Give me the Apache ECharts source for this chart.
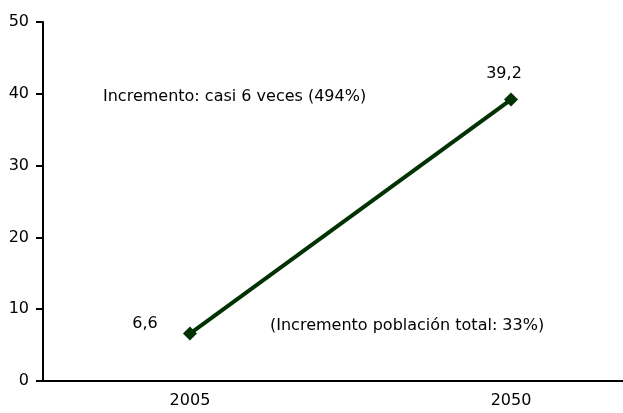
<!DOCTYPE html>
<html>
<head>
<meta charset="utf-8">
<script src="https://cdn.jsdelivr.net/npm/echarts@6/dist/echarts.min.js"></script>
<style>html,body{margin:0;padding:0;background:#fff;}#c{width:623px;height:413px;}</style>
</head>
<body>
<div id="c"></div>
<script>
const years = [2005, 2050];
const values = [6.6, 39.2];
const yTicks = [0, 10, 20, 30, 40, 50];
const noteTop = 'Incremento: casi 6 veces (494%)';
const noteBottom = '(Incremento población total: 33%)';

const FONT = 'DejaVu Sans';
const chart = echarts.init(document.getElementById('c'), null, {renderer: 'canvas'});
const labelOffsets = [[-45, -10], [-7, -26]];
chart.setOption({
  animation: false,
  backgroundColor: '#ffffff',
  grid: {left: 43, right: 0, top: 22, bottom: 32, containLabel: false},
  xAxis: {
    type: 'value', min: 1984.4, max: 2065.7,
    axisLine: {show: true, onZero: false, lineStyle: {color: '#000', width: 2}},
    axisTick: {show: false},
    splitLine: {show: false},
    axisLabel: {customValues: years, margin: 12, color: '#000', fontFamily: FONT, fontSize: 16,
      formatter: v => String(Math.round(v))}
  },
  yAxis: {
    type: 'value', min: 0, max: 50, interval: 10,
    axisLine: {show: true, lineStyle: {color: '#000', width: 2}},
    axisTick: {show: true, length: 7, lineStyle: {color: '#000', width: 2}},
    splitLine: {show: false},
    axisLabel: {margin: 14, color: '#000', fontFamily: FONT, fontSize: 16,
      formatter: v => yTicks.includes(v) ? String(v) : ''}
  },
  series: [{
    type: 'line',
    data: years.map((y, i) => ({
      value: [y, values[i]],
      label: {show: true, position: 'inside', offset: labelOffsets[i]}
    })),
    symbol: 'diamond', symbolSize: 14,
    lineStyle: {color: '#013201', width: 4},
    itemStyle: {color: '#013201'},
    label: {color: '#000', fontFamily: FONT, fontSize: 16,
      formatter: p => String(p.value[1]).replace('.', ',')}
  }],
  graphic: [
    {type: 'text', left: 103, top: 89, style: {text: noteTop, fill: '#000', font: '16px "DejaVu Sans"'}},
    {type: 'text', left: 270, top: 318, style: {text: noteBottom, fill: '#000', font: '16px "DejaVu Sans"'}}
  ]
});
</script>
</body>
</html>
